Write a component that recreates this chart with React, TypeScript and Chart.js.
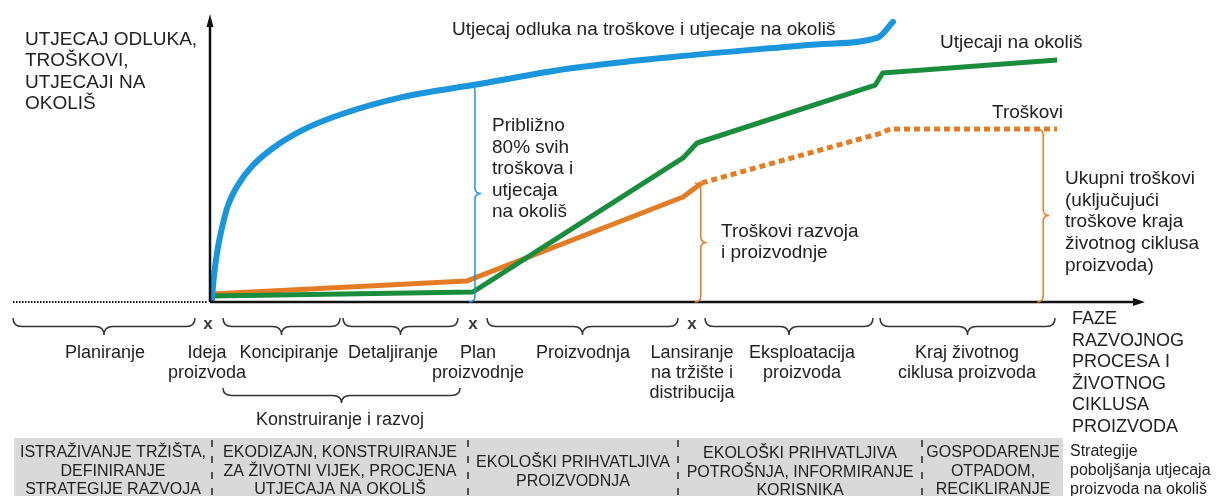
import { useEffect, useRef } from "react";
import { Chart, registerables } from "chart.js";

Chart.register(...registerables);

// x: position along the development / life-cycle axis (0 = axis origin, 100 = arrow)
// y: relative level (0 = baseline, 100 = top of the axis)
const decisionX = [0.2, 0.4, 0.75, 1.3, 1.9, 3.0, 4.5, 6.65, 9.85, 14.15, 20.6, 28.2, 38.9, 49.6, 60.3, 65.7, 71.5, 73.2];
const decisionY = [0.7, 8.4, 17.1, 26.1, 33.4, 40.8, 47.3, 53.4, 59.8, 65.5, 71.4, 75.6, 81.5, 85.4, 88.5, 89.9, 92.0, 97.6];
const envX = [0.2, 28.2, 50.7, 52.2, 71.3, 72.1, 90.8];
const envY = [2.1, 3.5, 50.2, 55.4, 75.6, 79.8, 84.3];
const costX = [0.2, 27.5, 50.7, 52.7];
const costY = [2.8, 7.3, 36.6, 41.5];
const costLaterX = [52.7, 72.0, 72.9, 90.8];
const costLaterY = [41.5, 58.9, 60.3, 60.3];

// brackets: x position and top level (they all reach down to 0)
const bracketX = [28.4, 52.6, 89.3];
const bracketTop = [75.6, 41.5, 60.3];

const yAxisTitle = ["UTJECAJ ODLUKA,", "TROŠKOVI,", "UTJECAJI NA", "OKOLIŠ"];
const xAxisTitle = ["FAZE", "RAZVOJNOG", "PROCESA I", "ŽIVOTNOG", "CIKLUSA", "PROIZVODA"];
const seriesLabels = ["Utjecaj odluka na troškove i utjecaje na okoliš", "Utjecaji na okoliš", "Troškovi"];
const noteShare = ["Približno", "80% svih", "troškova i", "utjecaja", "na okoliš"];
const noteDevCost = ["Troškovi razvoja", "i proizvodnje"];
const noteTotalCost = ["Ukupni troškovi", "(uključujući", "troškove kraja", "životnog ciklusa", "proizvoda)"];
const phaseLabels = [
  ["Planiranje"],
  ["Ideja", "proizvoda"],
  ["Koncipiranje"],
  ["Detaljiranje"],
  ["Plan", "proizvodnje"],
  ["Proizvodnja"],
  ["Lansiranje", "na tržište i", "distribucija"],
  ["Eksploatacija", "proizvoda"],
  ["Kraj životnog", "ciklusa proizvoda"],
];
const groupLabel = "Konstruiranje i razvoj";
const strategyLabels = [
  ["ISTRAŽIVANJE TRŽIŠTA,", "DEFINIRANJE", "STRATEGIJE RAZVOJA"],
  ["EKODIZAJN, KONSTRUIRANJE", "ZA ŽIVOTNI VIJEK, PROCJENA", "UTJECAJA NA OKOLIŠ"],
  ["EKOLOŠKI PRIHVATLJIVA", "PROIZVODNJA"],
  ["EKOLOŠKI PRIHVATLJIVA", "POTROŠNJA, INFORMIRANJE", "KORISNIKA"],
  ["GOSPODARENJE", "OTPADOM,", "RECIKLIRANJE"],
];
const strategyTitle = ["Strategije", "poboljšanja utjecaja", "proizvoda na okoliš"];

const BLUE = "#1b95db";
const GREEN = "#1a8d3d";
const ORANGE = "#e37c25";
const TEXT = "#222222";
const FONT = "'Liberation Sans', Arial, sans-serif";

function hBrace(ctx: CanvasRenderingContext2D, x1: number, x2: number, top: number, h: number) {
  const xm = (x1 + x2) / 2;
  const ym = top + h / 2;
  const r = Math.min(9, (x2 - x1) / 4);
  ctx.beginPath();
  ctx.moveTo(x1, top);
  ctx.quadraticCurveTo(x1, ym, x1 + r, ym);
  ctx.lineTo(xm - r, ym);
  ctx.quadraticCurveTo(xm, ym, xm, top + h);
  ctx.quadraticCurveTo(xm, ym, xm + r, ym);
  ctx.lineTo(x2 - r, ym);
  ctx.quadraticCurveTo(x2, ym, x2, top);
  ctx.stroke();
}

function vBrace(ctx: CanvasRenderingContext2D, x: number, y1: number, y2: number, w: number) {
  const ym = (y1 + y2) / 2;
  const r = 6;
  ctx.beginPath();
  ctx.moveTo(x - w / 2, y1);
  ctx.quadraticCurveTo(x, y1, x, y1 + r);
  ctx.lineTo(x, ym - r);
  ctx.quadraticCurveTo(x, ym, x + w / 2, ym);
  ctx.quadraticCurveTo(x, ym, x, ym + r);
  ctx.lineTo(x, y2 - r);
  ctx.quadraticCurveTo(x, y2, x - w / 2, y2);
  ctx.stroke();
}

function textLines(
  ctx: CanvasRenderingContext2D,
  lines: string[],
  x: number,
  baseline: number,
  lh: number,
  align: CanvasTextAlign
) {
  ctx.textAlign = align;
  lines.forEach((t, i) => ctx.fillText(t, x, baseline + i * lh));
}

const annotations = {
  id: "annotations",
  afterDraw(chart: any) {
    const { ctx, chartArea, scales } = chart;
    const xs = scales.x;
    const ys = scales.y;
    const left = chartArea.left;
    const bottom = chartArea.bottom;
    ctx.save();
    ctx.textBaseline = "alphabetic";

    // gray strategy band
    ctx.fillStyle = "#d9d9d9";
    ctx.fillRect(14, 438, 1049, 58);
    ctx.strokeStyle = "#222";
    ctx.lineWidth = 1.5;
    ctx.setLineDash([7, 9]);
    [212, 468, 678, 922].forEach((sx) => {
      ctx.beginPath();
      ctx.moveTo(sx, 440);
      ctx.lineTo(sx, 496);
      ctx.stroke();
    });
    ctx.setLineDash([]);

    // axes
    ctx.strokeStyle = "#111";
    ctx.fillStyle = "#111";
    ctx.lineWidth = 2.5;
    ctx.beginPath();
    ctx.moveTo(left, bottom);
    ctx.lineTo(chartArea.right - 6, bottom);
    ctx.stroke();
    ctx.beginPath();
    ctx.moveTo(chartArea.right + 2, bottom);
    ctx.lineTo(chartArea.right - 10, bottom - 4);
    ctx.lineTo(chartArea.right - 10, bottom + 4);
    ctx.closePath();
    ctx.fill();
    ctx.beginPath();
    ctx.moveTo(left, bottom);
    ctx.lineTo(left, chartArea.top + 8);
    ctx.stroke();
    ctx.beginPath();
    ctx.moveTo(left, chartArea.top - 1);
    ctx.lineTo(left - 3.5, chartArea.top + 12);
    ctx.lineTo(left + 3.5, chartArea.top + 12);
    ctx.closePath();
    ctx.fill();
    // dotted extension to the left
    ctx.lineWidth = 2;
    ctx.setLineDash([1.5, 1.5]);
    ctx.beginPath();
    ctx.moveTo(13, bottom);
    ctx.lineTo(left - 2, bottom);
    ctx.stroke();
    ctx.setLineDash([]);

    // brackets
    const bColors = [BLUE, ORANGE, ORANGE];
    bracketX.forEach((bx, i) => {
      ctx.strokeStyle = bColors[i];
      ctx.lineWidth = 1.5;
      vBrace(ctx, xs.getPixelForValue(bx), ys.getPixelForValue(bracketTop[i]), ys.getPixelForValue(0), 12);
    });

    // texts in the plot
    ctx.fillStyle = TEXT;
    ctx.font = `19px ${FONT}`;
    textLines(ctx, yAxisTitle, 25, 45, 21.3, "left");
    ctx.fillText(seriesLabels[0], 452, 35);
    ctx.fillText(seriesLabels[1], 940, 48);
    ctx.fillText(seriesLabels[2], 992, 118);
    textLines(ctx, noteShare, 492, 131, 21.5, "left");
    textLines(ctx, noteDevCost, 721, 237, 20.5, "left");
    textLines(ctx, noteTotalCost, 1065, 184, 21.7, "left");

    // phase braces and labels
    ctx.strokeStyle = "#333";
    ctx.lineWidth = 1.5;
    const braces = [
      [13, 195],
      [223, 340],
      [343, 458],
      [487, 678],
      [705, 873],
      [880, 1055],
    ];
    braces.forEach(([a, b]) => hBrace(ctx, a, b, 318, 17));
    hBrace(ctx, 223, 460, 388, 15);

    ctx.font = `bold 17px ${FONT}`;
    ctx.fillStyle = "#3a3a3a";
    ctx.textAlign = "center";
    [208, 473, 692].forEach((mx) => ctx.fillText("x", mx, 329));

    ctx.fillStyle = TEXT;
    ctx.font = `18px ${FONT}`;
    const phaseCenters = [105, 207, 289, 393, 478, 583, 692, 802, 967];
    phaseLabels.forEach((lines, i) => textLines(ctx, lines, phaseCenters[i], 358, 20, "center"));
    ctx.textAlign = "center";
    ctx.fillText(groupLabel, 340, 425);
    textLines(ctx, xAxisTitle, 1072, 324, 21.6, "left");

    // strategies
    ctx.font = `16px ${FONT}`;
    const stratCenters = [113, 340, 573, 800, 993];
    const stratTops = [457, 457, 467, 458, 457];
    strategyLabels.forEach((lines, i) =>
      textLines(ctx, lines, stratCenters[i], stratTops[i], lines.length === 2 ? 19 : 18.7, "center")
    );
    textLines(ctx, strategyTitle, 1070, 456, 19, "left");

    ctx.restore();
  },
};

export default function App() {
  const ref = useRef<HTMLCanvasElement>(null);
  useEffect(() => {
    const canvas = ref.current;
    if (!canvas) return;
    const pts = (xv: number[], yv: number[]) => xv.map((v, i) => ({ x: v, y: yv[i] }));
    const chart = new Chart(canvas, {
      type: "line",
      data: {
        datasets: [
          {
            label: seriesLabels[0],
            data: pts(decisionX, decisionY),
            borderColor: BLUE,
            borderWidth: 6,
            cubicInterpolationMode: "monotone",
            borderCapStyle: "round",
            borderJoinStyle: "round",
            clip: false,
          },
          {
            label: seriesLabels[1],
            data: pts(envX, envY),
            borderColor: GREEN,
            borderWidth: 5,
            tension: 0,
            borderJoinStyle: "round",
            clip: false,
          },
          {
            label: seriesLabels[2],
            data: pts(costX, costY),
            borderColor: ORANGE,
            borderWidth: 5,
            tension: 0,
            borderJoinStyle: "round",
            clip: false,
          },
          {
            label: seriesLabels[2] + " (kraj)",
            data: pts(costLaterX, costLaterY),
            borderColor: ORANGE,
            borderWidth: 5,
            borderDash: [6, 4],
            borderCapStyle: "butt",
            tension: 0,
            clip: false,
          },
        ],
      } as any,
      options: {
        responsive: false,
        animation: false,
        devicePixelRatio: 1,
        events: [],
        layout: { padding: { left: 210, right: 77, top: 15, bottom: 194 } },
        scales: {
          x: { type: "linear", min: 0, max: 100, display: false },
          y: { type: "linear", min: 0, max: 100, display: false },
        },
        elements: { point: { radius: 0 } },
        plugins: { legend: { display: false }, tooltip: { enabled: false } },
      } as any,
      plugins: [annotations],
    });
    return () => chart.destroy();
  }, []);
  return (
    <div style={{ position: "absolute", left: 0, top: 0, width: 1220, height: 496, background: "#fff" }}>
      <canvas ref={ref} width={1220} height={496} style={{ display: "block", width: 1220, height: 496 }} />
    </div>
  );
}
